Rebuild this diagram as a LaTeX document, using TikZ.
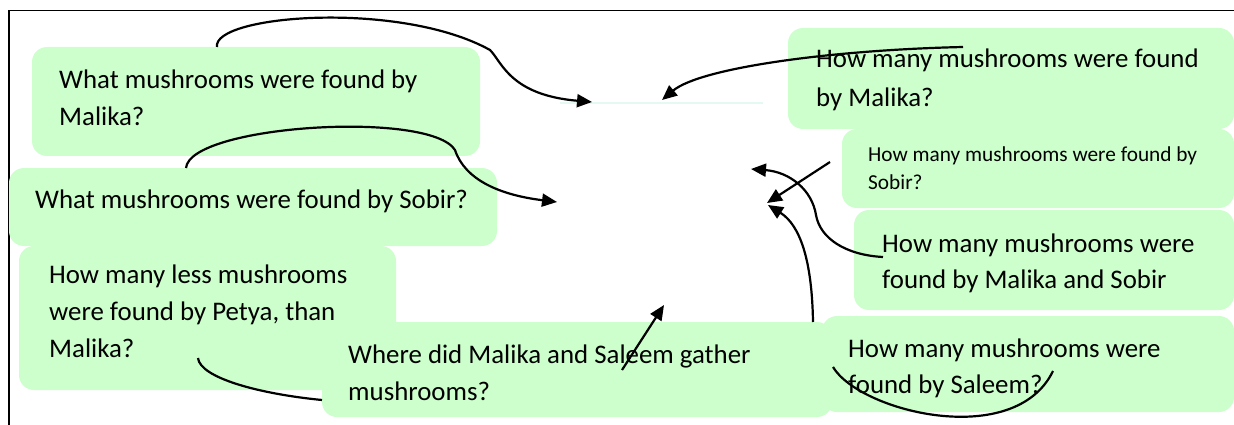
\documentclass[tikz,border=0pt]{standalone}
\usepackage{fontspec}
\setmainfont{Carlito}
\usetikzlibrary{arrows.meta}
\definecolor{boxgreen}{RGB}{204,255,204}
\definecolor{faintcyan}{RGB}{228,249,244}
\begin{document}
\begin{tikzpicture}[x=1pt,y=-1pt,
  qbox/.style={fill=boxgreen, draw=none, rounded corners=15pt, inner sep=0pt, outer sep=0pt, anchor=north west},
  big/.style={font=\fontsize{26.85}{37.5}\selectfont, inner sep=0pt, anchor=base west},
  small/.style={font=\fontsize{21.3}{28}\selectfont, inner sep=0pt, anchor=base west},
  conn/.style={line width=2.2pt, black},
  arr/.style={conn, -{Triangle[length=15pt,width=13pt]}}]
\useasboundingbox (0,0) rectangle (1234,425);
% frame
\draw[line width=1.8pt] (1234,10.5) -- (9,10.5) -- (9,425);
% boxes
\node[qbox, minimum width=448pt, minimum height=109pt] (b1) at (32,47) {};
\node[qbox, minimum width=488pt, minimum height=78pt] (b2) at (9,168) {};
\node[qbox, minimum width=377pt, minimum height=144pt] (b3) at (19,246) {};
\node[qbox, minimum width=510pt, minimum height=95pt] (b4) at (322,322) {};
\node[qbox, minimum width=446pt, minimum height=101pt] (b5) at (788,28) {};
\node[qbox, minimum width=392pt, minimum height=79pt] (b6) at (842,129) {};
\node[qbox, minimum width=380pt, minimum height=100pt] (b7) at (854,210) {};
\node[qbox, minimum width=412pt, minimum height=96pt] (b8) at (822,316) {};
% faint line
\draw[faintcyan, line width=2pt] (560,103) -- (763,103);
% texts
\node[big] (t1a) at (59,89) {What mushrooms were found by};
\node[big] (t1b) at (59,126) {Malika?};
\node[big] (t2a) at (35,208) {What mushrooms were found by Sobir?};
\node[big] (t3a) at (49,283) {How many less mushrooms};
\node[big] (t3b) at (49,320) {were found by Petya, than};
\node[big] (t3c) at (49,357) {Malika?};
\node[big] (t4a) at (348,363) {Where did Malika and Saleem gather};
\node[big] (t4b) at (348,400) {mushrooms?};
\node[big] (t5a) at (816,68) {How many mushrooms were found};
\node[big] (t5b) at (816,107) {by Malika?};
\node[small] (t6a) at (868,161) {How many mushrooms were found by};
\node[small] (t6b) at (868,189) {Sobir?};
\node[big] (t7a) at (882,252) {How many mushrooms were};
\node[big] (t7b) at (882,288) {found by Malika and Sobir};
\node[big] (t8a) at (848,357) {How many mushrooms were};
\node[big] (t8b) at (848,393) {found by Saleem?};
% connector end points
\coordinate (s1) at (217,47);
\coordinate (e1) at (592,102);
\coordinate (s2) at (963,47);
\coordinate (e2) at (662,100);
\coordinate (s3) at (186,168);
\coordinate (e3) at (557,202);
\coordinate (s4) at (830,162);
\coordinate (e4) at (767,203);
\coordinate (s5) at (883,257);
\coordinate (e5) at (751,169);
\coordinate (s6) at (813,322);
\coordinate (e6) at (768,205);
\coordinate (s7) at (622,370);
\coordinate (e7) at (664,305);
\coordinate (s8) at (198,358);
\coordinate (e8) at (322,400);
\coordinate (s9) at (833,367);
\coordinate (e9) at (1053,371);
% connectors
\draw[arr] (s1) .. controls (212,15) and (400,0) .. (490,50) .. controls (502,62) and (510,95) .. (e1);
\draw[arr] (s2) .. controls (830,50) and (700,68) .. (e2);
\draw[arr] (s3) .. controls (190,125) and (430,110) .. (455,150) .. controls (465,180) and (500,195) .. (e3);
\draw[arr] (s4) -- (e4);
\draw[arr] (s5) .. controls (845,255) and (820,238) .. (816,215) .. controls (812,190) and (790,172) .. (e5);
\draw[arr] (s6) .. controls (812,260) and (800,225) .. (e6);
\draw[arr] (s7) -- (e7);
\draw[conn] (s8) .. controls (200,378) and (260,394) .. (e8);
\draw[conn] (s9) .. controls (860,412) and (1015,450) .. (e9);
\end{tikzpicture}
\end{document}
